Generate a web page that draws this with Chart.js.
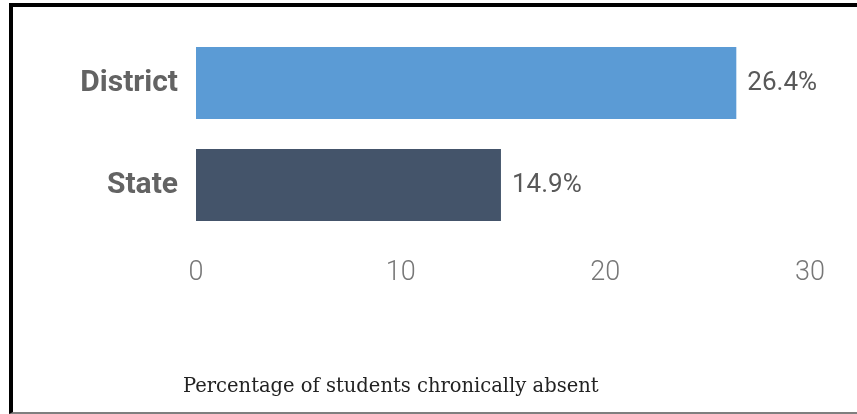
<!DOCTYPE html>
<html>
<head>
<meta charset="utf-8">
<script src="https://cdn.jsdelivr.net/npm/chart.js@4"></script>
<style>
  html, body { margin: 0; padding: 0; background: #fff; }
  #wrap { position: relative; width: 857px; height: 414px; overflow: hidden; }
  #frame { position: absolute; left: 9px; top: 3px; right: 0; height: 411px; box-sizing: border-box;
           border-left: 4px solid #000; border-top: 4px solid #000; border-bottom: 2px solid #7f7f7f; }
  #chartBox { position: absolute; left: 0; top: 0; width: 857px; height: 414px; }
  #caption { position: absolute; left: 183px; top: 374px; font-family: "DejaVu Serif", serif;
             font-size: 19.5px; color: #222; white-space: nowrap; line-height: 24px; }
</style>
</head>
<body>
<div id="wrap">
  <div id="frame"></div>
  <div id="chartBox"><canvas id="c"></canvas></div>
  <div id="caption">Percentage of students chronically absent</div>
</div>
<script>
const categories = ['District', 'State'];
const absentPct = [26.4, 14.9];
const barColors = ['#5B9BD5', '#44546A'];
const xTickValues = [0, 10, 20, 30];

const valueLabels = {
  id: 'valueLabels',
  afterDatasetsDraw(chart) {
    const ctx = chart.ctx;
    const meta = chart.getDatasetMeta(0);
    ctx.save();
    ctx.font = '400 26px Roboto';
    ctx.fillStyle = '#595959';
    ctx.textAlign = 'left';
    ctx.textBaseline = 'middle';
    meta.data.forEach((el, i) => {
      const v = chart.data.datasets[0].data[i];
      ctx.fillText(v.toFixed(1) + '%', el.x + 11, el.y);
    });
    ctx.restore();
  }
};

new Chart(document.getElementById('c'), {
  type: 'bar',
  data: {
    labels: categories,
    datasets: [{
      data: absentPct,
      backgroundColor: barColors,
      borderWidth: 0,
      barPercentage: 0.706,
      categoryPercentage: 1
    }]
  },
  options: {
    indexAxis: 'y',
    responsive: true,
    maintainAspectRatio: false,
    animation: false,
    layout: { padding: { left: 10, top: 32, right: 47, bottom: 128 } },
    plugins: { legend: { display: false }, tooltip: { enabled: false }, title: { display: false } },
    scales: {
      x: {
        min: 0, max: 30,
        afterBuildTicks(s) { s.ticks = xTickValues.map(v => ({ value: v })); },
        afterFit(s) { s.height = 50; },
        grid: { display: false },
        border: { display: false },
        ticks: { font: { family: 'Roboto', size: 27, weight: '300' }, color: '#777777', padding: 13 }
      },
      y: {
        afterFit(s) { s.width = 186; },
        grid: { display: false },
        border: { display: false },
        ticks: { font: { family: 'Roboto', size: 30, weight: 'bold' }, color: '#636363', padding: 10 }
      }
    }
  },
  plugins: [valueLabels]
});
</script>
</body>
</html>
